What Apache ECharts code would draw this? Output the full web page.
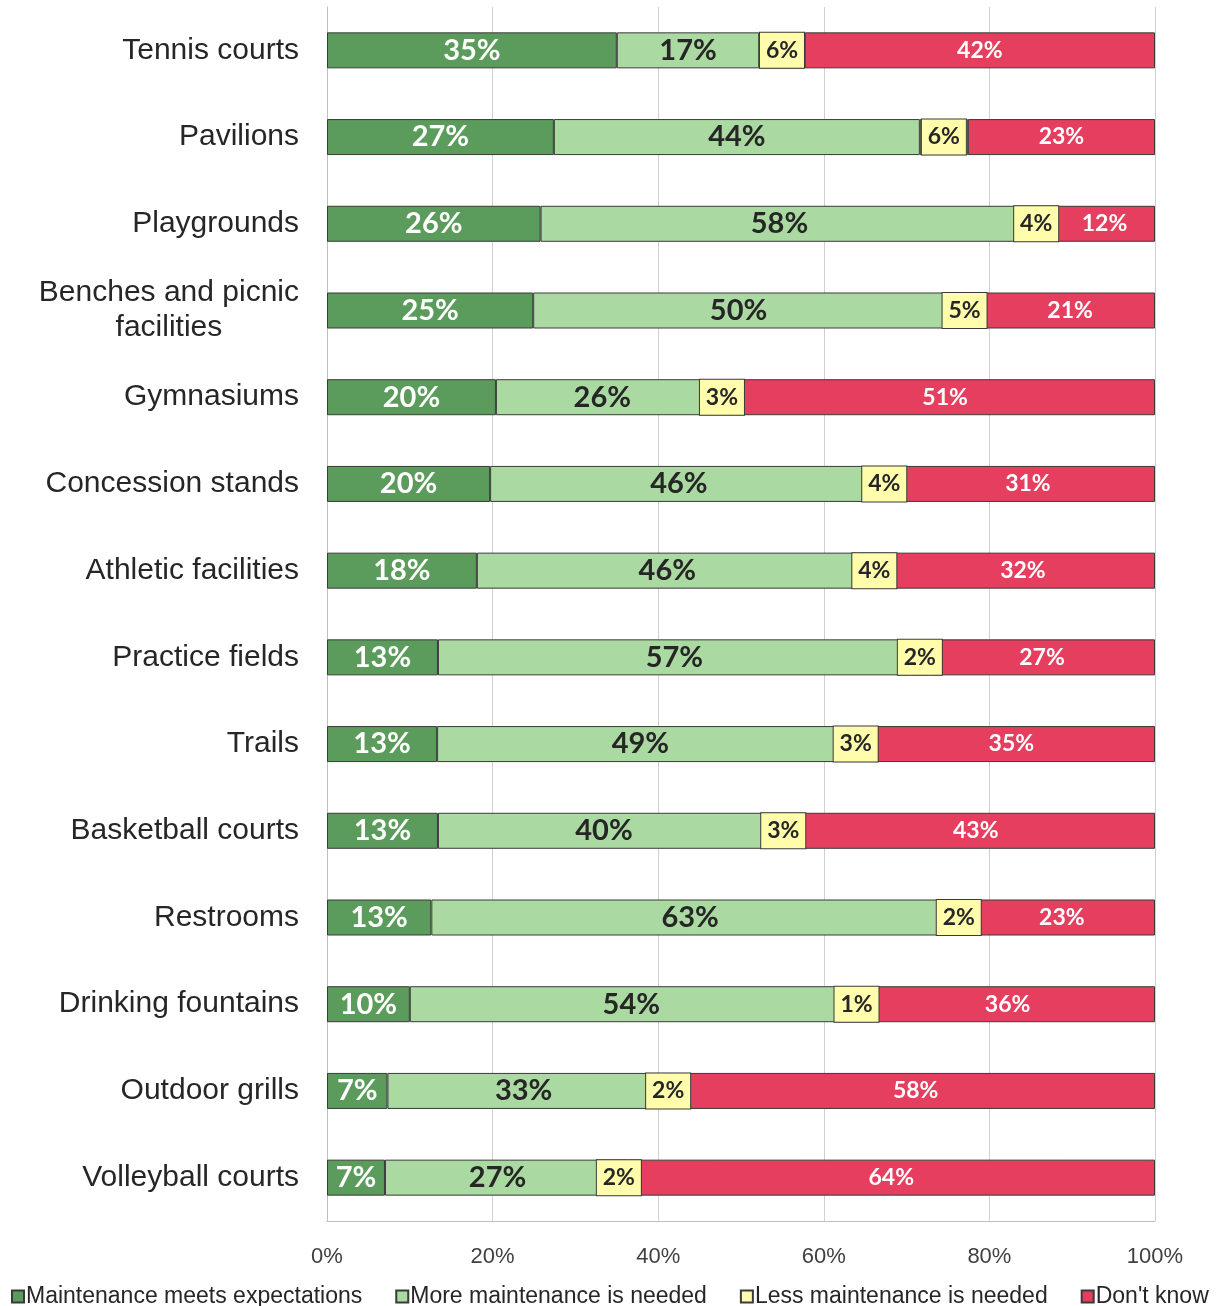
<!DOCTYPE html>
<html>
<head>
<meta charset="utf-8">
<script src="https://cdn.jsdelivr.net/npm/echarts@6/dist/echarts.min.js"></script>
<style>
  html, body { margin: 0; padding: 0; background: #fff; }
  #chart { width: 1221px; height: 1306px; }
</style>
</head>
<body>
<div id="chart"></div>
<script>
  // categories, top to bottom
  const categories = [
    'Tennis courts', 'Pavilions', 'Playgrounds', 'Benches and picnic\nfacilities',
    'Gymnasiums', 'Concession stands', 'Athletic facilities', 'Practice fields',
    'Trails', 'Basketball courts', 'Restrooms', 'Drinking fountains',
    'Outdoor grills', 'Volleyball courts'
  ]
  // shares in percent (labels show rounded values)
  const meets = [35.0, 27.4, 25.8, 24.9, 20.4, 19.7, 18.1, 13.4, 13.3, 13.4, 12.6, 10.0, 7.3, 7.0]
  const more = [17.2, 44.2, 57.7, 49.6, 25.7, 45.6, 46.0, 57.1, 49.1, 40.1, 62.5, 53.5, 32.9, 27.2]
  const less = [5.5, 5.8, 4.3, 5.0, 3.2, 4.0, 4.0, 2.2, 2.9, 3.2, 2.4, 0.9, 2.0, 2.1]
  const dontKnow = [42.3, 22.6, 12.2, 20.5, 50.7, 30.7, 31.9, 27.3, 34.7, 43.3, 22.5, 35.6, 57.8, 63.7]
  const xTicks = [0, 20, 40, 60, 80, 100]

  const chart = echarts.init(document.getElementById('chart'))
  const pct = (p) => Math.round(p.value) + '%'
  const barFont = 'Lato, "Open Sans", sans-serif'

  function makeSeries(name, data, color, label, extra) {
    return Object.assign({
      name: name,
      type: 'bar',
      stack: 'total',
      barWidth: 36,
      data: data,
      itemStyle: { color: color, borderColor: '#3a3a3a', borderWidth: 1 },
      label: Object.assign({
        show: true,
        position: 'inside',
        formatter: pct,
        fontFamily: barFont,
        fontWeight: 'bold'
      }, label)
    }, extra || {})
  }

  const option = {
    animation: false,
    grid: { left: 327, right: 66, top: 7, bottom: 85 },
    xAxis: {
      type: 'value',
      min: 0,
      max: 100,
      interval: 20,
      axisLabel: {
        formatter: (v) => xTicks.includes(v) ? v + '%' : '',
        fontFamily: '"Liberation Sans Narrow", "Arial Narrow", sans-serif',
        fontSize: 22,
        color: '#404040',
        margin: 25
      },
      axisLine: { show: true, lineStyle: { color: '#bfbfbf' } },
      axisTick: { show: false },
      splitLine: { show: true, lineStyle: { color: '#d0d0d0', width: 1 } }
    },
    yAxis: {
      type: 'category',
      inverse: true,
      data: categories,
      axisLine: { show: true, lineStyle: { color: '#bfbfbf' } },
      axisTick: { show: false },
      axisLabel: {
        margin: 28,
        formatter: (v) => v.split('\n').map((s) => '{c|' + s + '}').join('\n'),
        rich: {
          c: {
            fontFamily: '"Liberation Sans", Arial, sans-serif',
            fontSize: 30,
            color: '#262626',
            align: 'center',
            lineHeight: 35
          }
        }
      }
    },
    legend: {
      top: 1280,
      left: 6,
      itemGap: 33,
      itemWidth: 12,
      itemHeight: 12,
      icon: 'rect',
      textStyle: {
        fontFamily: '"Liberation Sans", Arial, sans-serif',
        fontSize: 23,
        color: '#262626',
        padding: [0, 0, 0, -3]
      },
      data: ['Maintenance meets expectations', 'More maintenance is needed', 'Less maintenance is needed', "Don't know"]
    },
    series: [
      makeSeries('Maintenance meets expectations', meets, '#5b9b5b', { color: '#ffffff', fontSize: 29 }),
      makeSeries('More maintenance is needed', more, '#aad9a1', { color: '#262626', fontSize: 29 }),
      makeSeries('Less maintenance is needed', less, '#fffcab', {
        color: '#262626',
        fontSize: 23,
        backgroundColor: '#fffcab',
        borderColor: '#3a3a3a',
        borderWidth: 1,
        padding: [7, 4, 5, 4],
        width: 36,
        align: 'center'
      }, { z: 3 }),
      makeSeries("Don't know", dontKnow, '#e63e5e', { color: '#ffffff', fontSize: 23 })
    ]
  }

  chart.setOption(option)
</script>
</body>
</html>
